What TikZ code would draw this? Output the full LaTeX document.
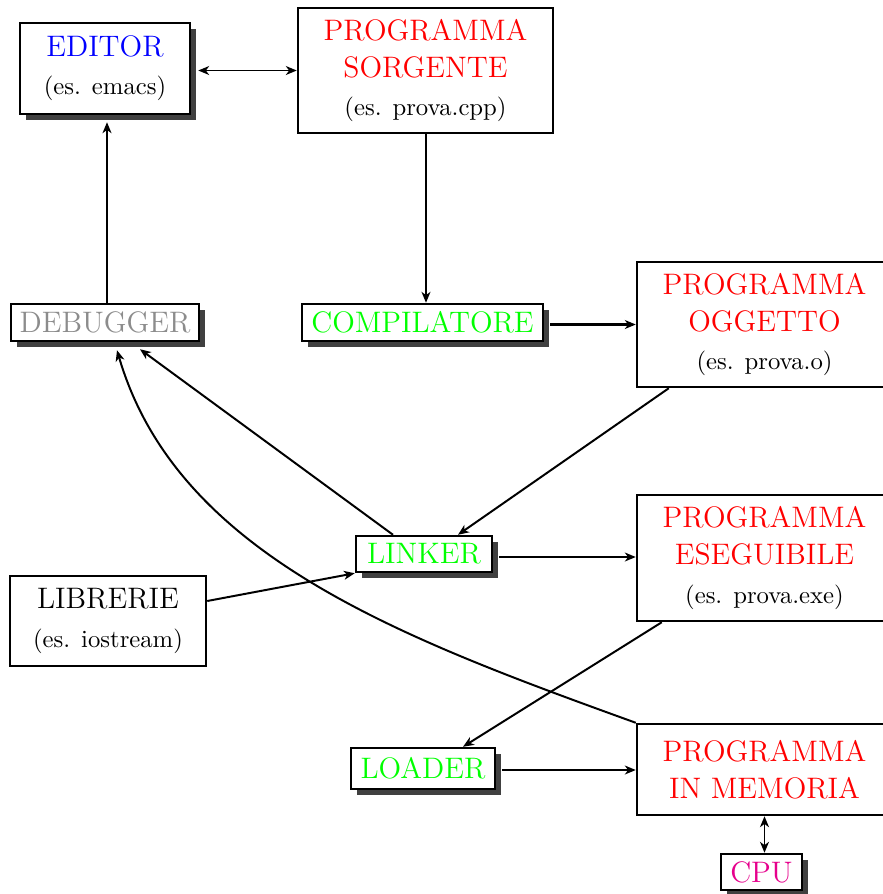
\documentclass[tikz,border=0pt]{standalone}
\usetikzlibrary{shadows,arrows.meta}
\definecolor{cblue}{RGB}{0,0,255}
\definecolor{cred}{RGB}{255,0,0}
\definecolor{cgreen}{RGB}{0,255,0}
\definecolor{cgray}{RGB}{140,140,140}
\definecolor{cmag}{RGB}{230,0,140}
\def\pu{0.405pt}
\newcommand\subt[1]{{\fontsize{10}{12}\selectfont #1}}
\begin{document}
\begin{tikzpicture}[x=0.405pt,y=-0.405pt,
  box/.style={draw,line width=1pt,fill=white,inner sep=0pt,align=center,
    font=\fontsize{12}{15}\selectfont},
  shbox/.style={box,drop shadow={opacity=1,fill=black!75,
    shadow xshift=6*\pu,shadow yshift=-6*\pu}},
  conn/.style={line width=0.8pt,-{Stealth[length=4.4pt,width=3.6pt,inset=1.3pt]}},
  bconn/.style={line width=0.8pt,{Stealth[length=4.4pt,width=3.6pt,inset=1.3pt]}-{Stealth[length=4.4pt,width=3.6pt,inset=1.3pt]}}]
\useasboundingbox (0,0) rectangle (883,894);
\node[shbox,minimum width=170*\pu,minimum height=91*\pu] (editor) at (105,68.5)
  {\textcolor{cblue}{EDITOR}\\[0.5pt]\subt{(es. emacs)}};
\node[box,minimum width=255*\pu,minimum height=125*\pu] (sorg) at (425.5,70.5)
  {\textcolor{cred}{PROGRAMMA}\\\textcolor{cred}{SORGENTE}\\[0.5pt]\subt{(es. prova.cpp)}};
\node[shbox,minimum width=188*\pu,minimum height=37*\pu] (dbg) at (105,322.5)
  {\textcolor{cgray}{DEBUGGER}};
\node[shbox,minimum width=241*\pu,minimum height=37*\pu] (comp) at (422.5,322.5)
  {\textcolor{cgreen}{COMPILATORE}};
\node[box,minimum width=255*\pu,minimum height=125*\pu] (ogg) at (764.5,324.5)
  {\textcolor{cred}{PROGRAMMA}\\\textcolor{cred}{OGGETTO}\\[0.5pt]\subt{(es. prova.o)}};
\node[shbox,minimum width=136*\pu,minimum height=36*\pu] (linker) at (424,554)
  {\textcolor{cgreen}{LINKER}};
\node[box,minimum width=255*\pu,minimum height=126*\pu] (eseg) at (764.5,558)
  {\textcolor{cred}{PROGRAMMA}\\\textcolor{cred}{ESEGUIBILE}\\[0.5pt]\subt{(es. prova.exe)}};
\node[box,minimum width=196*\pu,minimum height=90*\pu] (libr) at (108,621)
  {LIBRERIE\\[0.5pt]\subt{(es. iostream)}};
\node[shbox,minimum width=144*\pu,minimum height=41*\pu] (loader) at (423,768.5)
  {\textcolor{cgreen}{LOADER}};
\node[box,minimum width=255*\pu,minimum height=91*\pu] (mem) at (764.5,769.5)
  {\textcolor{cred}{PROGRAMMA}\\\textcolor{cred}{IN MEMORIA}};
\node[shbox,minimum width=81*\pu,minimum height=36*\pu] (cpu) at (761.5,872)
  {\textcolor{cmag}{CPU}};

\draw[bconn] ([xshift=7*\pu,yshift=-2*\pu]editor.east) -- ([yshift=-2*\pu]editor.east -| sorg.west);
\draw[conn] ([xshift=2*\pu]dbg.north) -- ([xshift=2*\pu,yshift=-7*\pu]editor.south);
\draw[conn] ([xshift=0.5*\pu]sorg.south) -- ([xshift=0.5*\pu]sorg.south |- comp.north);
\draw[conn,line width=1.2pt] ([xshift=6*\pu,yshift=-2*\pu]comp.east) -- ([yshift=-2*\pu]comp.east -| ogg.west);
\draw[conn] ([xshift=33*\pu]ogg.south west) -- ([xshift=34*\pu]linker.north);
\draw[conn] ([xshift=-31*\pu]linker.north) -- ([shift={(35,7)}]dbg.south);
\draw[conn] ([yshift=20*\pu]libr.east) -- (linker.south west);
\draw[conn] ([xshift=6*\pu,yshift=-3*\pu]linker.east) -- ([yshift=-3*\pu]linker.east -| eseg.west);
\draw[conn] ([xshift=26*\pu]eseg.south west) -- ([xshift=40*\pu]loader.north);
\draw[conn] ([xshift=6*\pu,yshift=-1.5*\pu]loader.east) -- ([yshift=-1.5*\pu]loader.east -| mem.west);
\draw[bconn] (mem.south) -- (mem.south |- cpu.north);
\draw[conn] (mem.north west) .. controls +(-235,-85) and +(60,205) .. ([shift={(12,8)}]dbg.south);
\end{tikzpicture}
\end{document}
